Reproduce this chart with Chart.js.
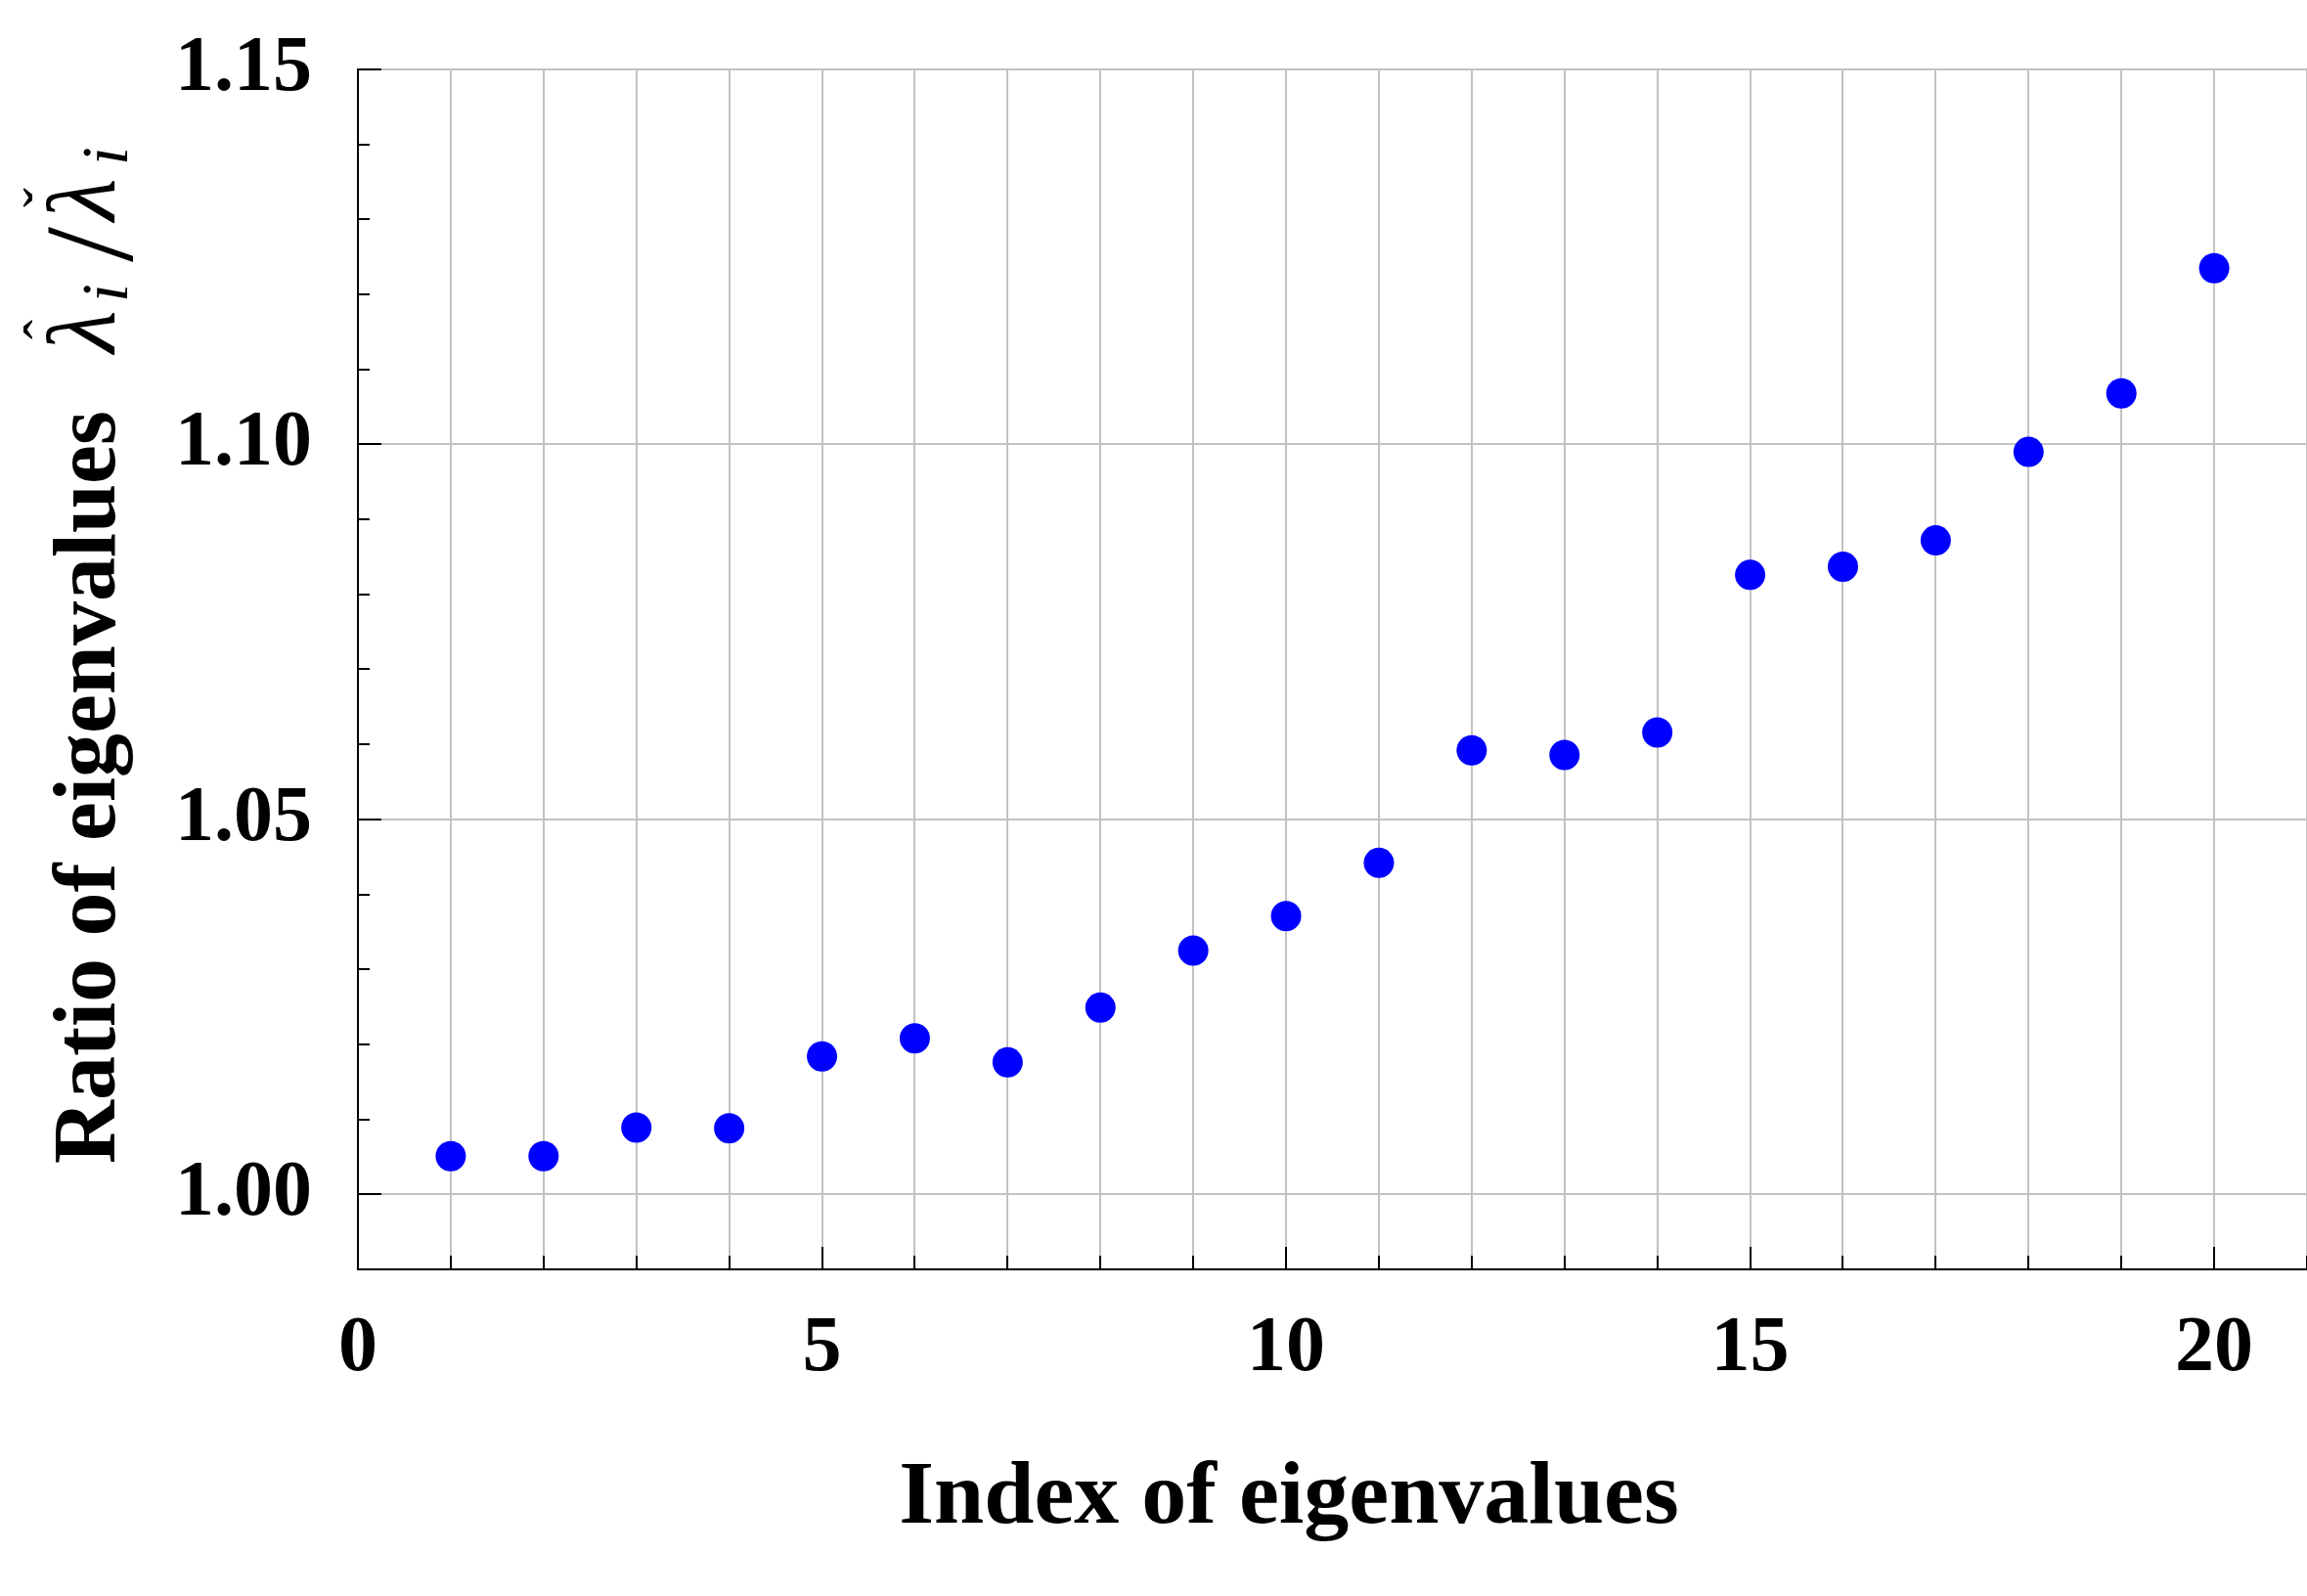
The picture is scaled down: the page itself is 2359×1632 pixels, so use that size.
<!DOCTYPE html>
<html>
<head>
<meta charset="utf-8">
<title>Ratio of eigenvalues</title>
<script src="https://cdn.jsdelivr.net/npm/chart.js@4.4.0/dist/chart.umd.min.js"></script>
<style>
  html, body { margin: 0; padding: 0; background: #fff; }
  #wrap { width: 2359px; height: 1632px; position: relative; }
</style>
</head>
<body>
<div id="wrap"><canvas id="myChart"></canvas></div>
<script>
//------Data------
const indexes = [1, 2, 3, 4, 5, 6, 7, 8, 9, 10, 11, 12, 13, 14, 15, 16, 17, 18, 19, 20];
const ratios = [1.0051, 1.0051, 1.0089, 1.0088, 1.0184, 1.0208, 1.0176, 1.0249, 1.0325, 1.0371,
                1.0442, 1.0592, 1.0586, 1.0616, 1.0826, 1.0837, 1.0872, 1.0990, 1.1068, 1.1235];
const xTickLabels = [0, 5, 10, 15, 20];
const yTickLabels = [1.00, 1.05, 1.10, 1.15];
const xTitle = 'Index of eigenvalues';
const yTitle = 'Ratio of eigenvalues';
//----------------

const serif = "'Liberation Serif', 'Times New Roman', serif";
const gridColor = '#c2c2c2';

// no automatic padding around the scales, the layout padding decides
function noPad(scale) {
  scale.paddingTop = 0;
  scale.paddingBottom = 0;
  scale.paddingLeft = 0;
  scale.paddingRight = 0;
}

//--ticks pointing inside the plot
const innerTicks = {
  id: 'innerTicks',
  beforeDatasetsDraw(chart) {
    const { ctx, chartArea, scales: { x, y } } = chart;
    ctx.save();
    ctx.strokeStyle = '#000';
    ctx.lineWidth = 2;
    ctx.beginPath();
    for (let v = x.min; v <= x.max; v++) {
      const px = Math.round(x.getPixelForValue(v));
      const len = xTickLabels.includes(v) ? 23 : 14;
      ctx.moveTo(px, chartArea.bottom);
      ctx.lineTo(px, chartArea.bottom - len);
    }
    for (let k = 100; k <= 115; k++) {
      const py = Math.round(y.getPixelForValue(k / 100));
      const len = k % 5 === 0 ? 24 : 12;
      ctx.moveTo(chartArea.left, py);
      ctx.lineTo(chartArea.left + len, py);
    }
    ctx.stroke();
    ctx.restore();
  }
};

//--axis titles (the y one mixes bold text and math)
const titlesPlugin = {
  id: 'titles',
  afterDraw(chart) {
    const ctx = chart.ctx;
    ctx.save();
    ctx.fillStyle = '#000';
    ctx.textBaseline = 'alphabetic';

    // x title
    ctx.font = `bold 92px ${serif}`;
    ctx.textAlign = 'center';
    ctx.fillText(xTitle, 1318, 1557);

    // y title
    ctx.translate(117, 1190);
    ctx.rotate(-Math.PI / 2);
    ctx.font = `bold 90px ${serif}`;
    ctx.textAlign = 'left';
    ctx.fillText(yTitle, 0, 0);

    const lam = (uc, accent) => {
      ctx.font = `italic 100px ${serif}`;
      ctx.textAlign = 'center';
      ctx.fillText('λ', uc, 0);
      ctx.font = `60px ${serif}`;
      ctx.fillText(accent, uc + 2, -52);
    };
    const sub = (u) => {
      ctx.font = `italic 68px ${serif}`;
      ctx.textAlign = 'left';
      ctx.fillText('i', u, 13);
    };

    lam(851, 'ˆ');
    sub(881);
    ctx.font = `130px ${serif}`;
    ctx.textAlign = 'center';
    ctx.fillText('/', 940, 18);
    lam(986, 'ˇ');
    sub(1021);
    ctx.restore();
  }
};

const ctxx = document.getElementById('myChart').getContext('2d');

new Chart(ctxx, {
  type: 'scatter',
  data: {
    datasets: [{
      data: indexes.map((v, i) => ({ x: v, y: ratios[i] })),
      backgroundColor: '#0000ff',
      borderColor: '#0000ff',
      borderWidth: 0,
      pointRadius: 15.5,
      pointHoverRadius: 15.5
    }]
  },
  options: {
    responsive: true,
    maintainAspectRatio: false,
    animation: false,
    events: [],
    layout: { autoPadding: false, padding: { top: 71, right: 0, bottom: 0, left: 0 } },
    plugins: {
      legend: { display: false },
      tooltip: { enabled: false }
    },
    scales: {
      x: {
        type: 'linear',
        min: 0,
        max: 21,
        afterBuildTicks: (scale) => {
          const t = [];
          for (let v = 0; v <= 21; v++) t.push({ value: v });
          scale.ticks = t;
        },
        afterFit: (scale) => { scale.height = 334; noPad(scale); },
        grid: { color: gridColor, lineWidth: 2, drawTicks: false },
        border: { color: '#000', width: 2 },
        ticks: {
          autoSkip: false,
          maxRotation: 0,
          padding: 34,
          color: '#000',
          font: { family: serif, size: 80, weight: 'bold' },
          callback: (value) => xTickLabels.includes(value) ? String(value) : ''
        }
      },
      y: {
        type: 'linear',
        min: 0.99,
        max: 1.15,
        afterBuildTicks: (scale) => {
          scale.ticks = yTickLabels.map((v) => ({ value: v }));
        },
        afterFit: (scale) => { scale.width = 366; noPad(scale); },
        grid: { color: gridColor, lineWidth: 2, drawTicks: false },
        border: { color: '#000', width: 2 },
        ticks: {
          padding: 47,
          color: '#000',
          font: { family: serif, size: 80, weight: 'bold' },
          callback: (value) => value.toFixed(2)
        }
      }
    }
  },
  plugins: [innerTicks, titlesPlugin]
});
</script>
</body>
</html>
